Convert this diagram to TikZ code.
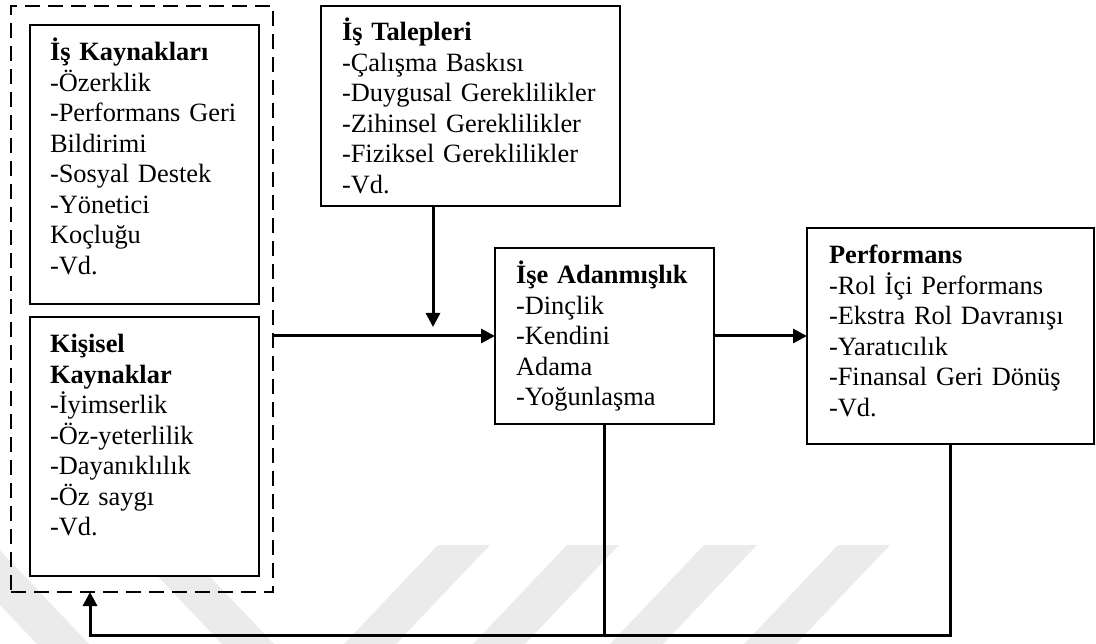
\documentclass[tikz,border=0pt]{standalone}
\usepackage{fontspec}
\setmainfont{Liberation Serif}
\usetikzlibrary{arrows.meta}
\begin{document}
\begin{tikzpicture}[x=1pt,y=-1pt,
  box/.style={draw, line width=2pt, fill=white, inner sep=0pt, outer sep=0pt},
  group/.style={draw, line width=1.3pt, dash pattern=on 15pt off 8pt, inner sep=0pt, outer sep=0pt},
  txt/.style={anchor=base west, inner sep=0pt, outer sep=0pt, align=left, text width=300pt,
    font=\fontsize{26.4}{30.5}\selectfont},
  arr/.style={line width=3pt, line join=miter, -{Triangle[length=14pt,width=14pt]}},
  link/.style={line width=3pt},
  stripe/.style={fill=black!8, draw=none}]
\useasboundingbox (0,0) rectangle (1096,644);

% faint diagonal background stripes
\fill[stripe] (-57,545) -- (-5,545) -- (89,644) -- (37,644) -- cycle;
\fill[stripe] (128,545) -- (180,545) -- (274,644) -- (222,644) -- cycle;
\fill[stripe] (438,545) -- (490,545) -- (396,644) -- (344,644) -- cycle;
\fill[stripe] (567,545) -- (619,545) -- (525,644) -- (473,644) -- cycle;
\fill[stripe] (704,545) -- (757,545) -- (663,644) -- (610,644) -- cycle;
\fill[stripe] (838,545) -- (890,545) -- (796,644) -- (744,644) -- cycle;

% resources group and boxes
\node[group, minimum width=262pt, minimum height=586pt] (res) at (142,299) {};
\node[box, minimum width=229pt, minimum height=279pt] (kay) at (144.5,164.5) {};
\node[box, minimum width=229pt, minimum height=259pt] (kis) at (144.5,446.5) {};
\node[box, minimum width=299pt, minimum height=200pt] (tal) at (470.5,106) {};
\node[box, minimum width=219pt, minimum height=176pt] (ada) at (604.5,336) {};
\node[box, minimum width=287pt, minimum height=216pt] (perf) at (950.5,336) {};

% box contents
\node[txt] (kayT) at (50,61) {\textbf{İş Kaynakları}\\-Özerklik\\-Performans Geri\\Bildirimi\\-Sosyal Destek\\-Yönetici\\Koçluğu\\-Vd.};
\node[txt] (kisT) at (50,353) {\textbf{Kişisel}\\\textbf{Kaynaklar}\\-İyimserlik\\-Öz-yeterlilik\\-Dayanıklılık\\-Öz saygı\\-Vd.};
\node[txt] (talT) at (342,41) {\textbf{İş Talepleri}\\-Çalışma Baskısı\\-Duygusal Gereklilikler\\-Zihinsel Gereklilikler\\-Fiziksel Gereklilikler\\-Vd.};
\node[txt] (adaT) at (516,284) {\textbf{İşe Adanmışlık}\\-Dinçlik\\-Kendini\\Adama\\-Yoğunlaşma};
\node[txt] (perfT) at (829,264) {\textbf{Performans}\\-Rol İçi Performans\\-Ekstra Rol Davranışı\\-Yaratıcılık\\-Finansal Geri Dönüş\\-Vd.};

% connectors
\coordinate (hit) at (433,327);
\coordinate (fbl) at (90,635);
\draw[arr] (tal.south -| hit) -- (hit);
\draw[arr] (res.east |- ada.west) -- (ada.west);
\draw[arr] (ada.east) -- (perf.west);
\draw[link] (ada.south) -- (ada.south |- fbl);
\draw[arr] (perf.south) |- (fbl) -- (res.south -| fbl);
\end{tikzpicture}
\end{document}
